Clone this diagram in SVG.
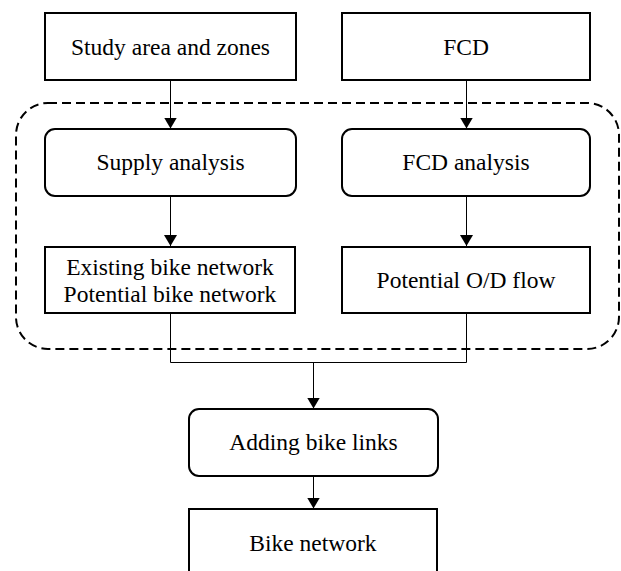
<svg xmlns="http://www.w3.org/2000/svg" width="621" height="571" viewBox="0 0 621 571">
<style>
.box{fill:#fff;stroke:#000;stroke-width:2}
.grp{fill:none;stroke:#000;stroke-width:2;stroke-dasharray:9 5}
.ln{fill:none;stroke:#000;stroke-width:1}
text{font-family:"Liberation Serif","Times New Roman",serif;font-size:23.5px;fill:#000;text-anchor:middle}
</style>
<defs>
<marker id="ah" viewBox="0 0 11 13" refX="11" refY="6.5" markerWidth="11" markerHeight="13" markerUnits="userSpaceOnUse" orient="auto">
<path d="M0,0 L11,6.5 L0,13 Z" fill="#000"/>
</marker>
</defs>
<rect width="621" height="571" fill="#fff"/>
<rect id="group" class="grp" x="16" y="103" width="603" height="246" rx="32" ry="32"/>
<g id="connectors">
<line class="ln" x1="170.5" y1="80" x2="170.5" y2="128.5" marker-end="url(#ah)"/>
<line class="ln" x1="466.5" y1="80" x2="466.5" y2="128.5" marker-end="url(#ah)"/>
<line class="ln" x1="170.5" y1="196" x2="170.5" y2="246" marker-end="url(#ah)"/>
<line class="ln" x1="466.5" y1="196" x2="466.5" y2="246" marker-end="url(#ah)"/>
<polyline class="ln" points="170.5,313 170.5,362.5 466.5,362.5 466.5,313"/>
<line class="ln" x1="313.5" y1="362.5" x2="313.5" y2="408.5" marker-end="url(#ah)"/>
<line class="ln" x1="313.5" y1="476" x2="313.5" y2="508.5" marker-end="url(#ah)"/>
</g>
<g id="study">
<rect class="box" x="45" y="13" width="251" height="67"/>
<text x="170.5" y="55">Study area and zones</text>
</g>
<g id="fcd">
<rect class="box" x="342" y="13" width="248" height="67"/>
<text x="466" y="55">FCD</text>
</g>
<g id="supply">
<rect class="box" x="45" y="129" width="251" height="67" rx="10" ry="10"/>
<text x="170.5" y="170">Supply analysis</text>
</g>
<g id="fcdanalysis">
<rect class="box" x="342" y="129" width="248" height="67" rx="10" ry="10"/>
<text x="466" y="170">FCD analysis</text>
</g>
<g id="existing">
<rect class="box" x="45" y="247" width="250" height="66"/>
<text x="170" y="275">Existing bike network</text>
<text x="170" y="302">Potential bike network</text>
</g>
<g id="od">
<rect class="box" x="342" y="247" width="248" height="66"/>
<text x="466" y="288">Potential O/D flow</text>
</g>
<g id="adding">
<rect class="box" x="189" y="409" width="249" height="67" rx="10" ry="10"/>
<text x="313.5" y="450">Adding bike links</text>
</g>
<g id="bikenetwork">
<rect class="box" x="189" y="509" width="248" height="67"/>
<text x="313" y="551">Bike network</text>
</g>
</svg>
